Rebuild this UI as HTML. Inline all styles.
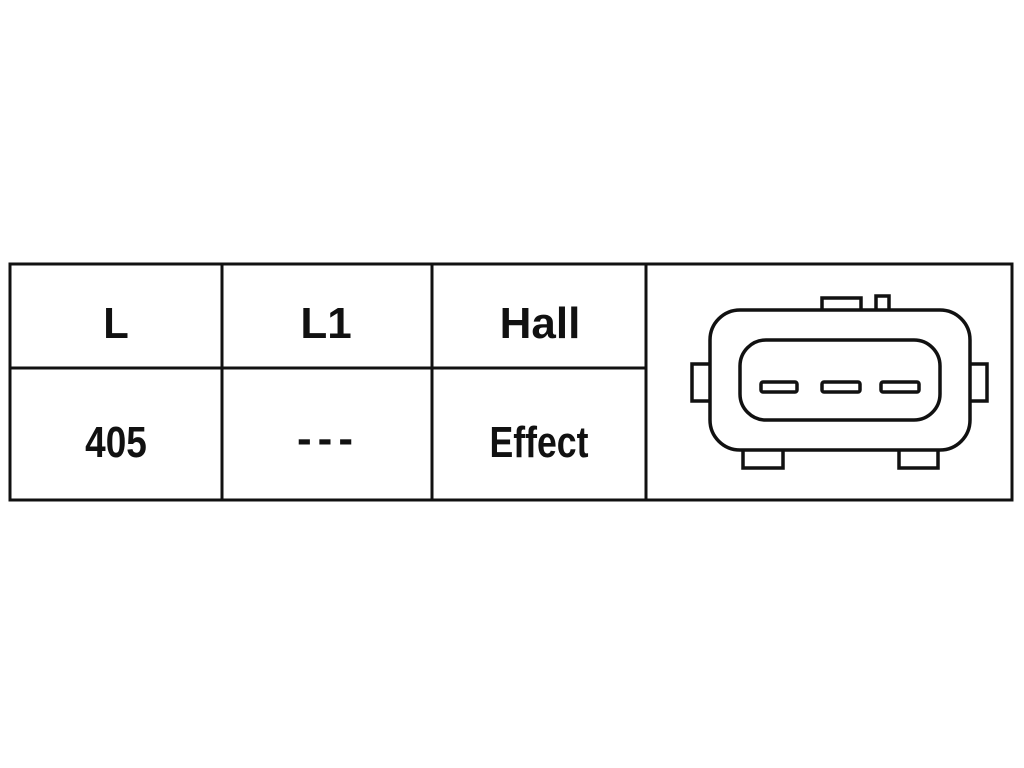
<!DOCTYPE html>
<html><head><style>
html,body{margin:0;padding:0;background:#fff;width:1024px;height:768px;overflow:hidden}
</style></head><body>
<svg width="1024" height="768" viewBox="0 0 1024 768" xmlns="http://www.w3.org/2000/svg">
<g stroke="#111" stroke-width="3" fill="none">
<rect x="10" y="264" width="1002" height="236"/>
<line x1="10" y1="368" x2="646" y2="368"/>
<line x1="222" y1="264" x2="222" y2="500"/>
<line x1="432" y1="264" x2="432" y2="500"/>
<line x1="646" y1="264" x2="646" y2="500"/>
</g>
<g stroke="#111" stroke-width="3.5" fill="#fff">
<rect x="822" y="298" width="39" height="14"/>
<rect x="876" y="296" width="13" height="16"/>
<rect x="692" y="364" width="20" height="37"/>
<rect x="968" y="364" width="19" height="37"/>
<rect x="743" y="448" width="40" height="20"/>
<rect x="899" y="448" width="39" height="20"/>
<rect x="710" y="310" width="260" height="140" rx="30"/>
<rect x="740" y="340" width="200" height="80" rx="26"/>
<rect x="761" y="382" width="36" height="10" rx="2"/>
<rect x="822" y="382" width="38" height="10" rx="2"/>
<rect x="881" y="382" width="38" height="10" rx="2"/>
</g>
<g font-family="Liberation Sans, sans-serif" fill="#111" text-anchor="middle" font-weight="bold">
<text x="116" y="338" font-size="44" transform="translate(116 0) scale(0.95 1) translate(-116 0)">L</text>
<text x="326" y="338" font-size="44" transform="translate(326 0) scale(1.0 1) translate(-326 0)">L1</text>
<text x="540" y="338" font-size="44" transform="translate(540 0) scale(1.0 1) translate(-540 0)">Hall</text>
<text x="116" y="457" font-size="44" transform="translate(116 0) scale(0.84 1) translate(-116 0)">405</text>
<text x="328" y="453" font-size="44" letter-spacing="6">---</text>
<text x="539" y="457" font-size="44" transform="translate(539 0) scale(0.81 1) translate(-539 0)">Effect</text>
</g>
</svg>
</body></html>
